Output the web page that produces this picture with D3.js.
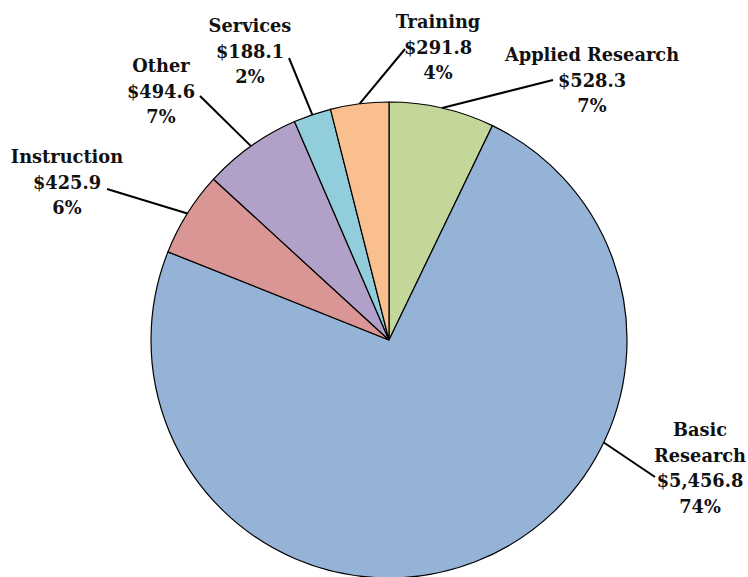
<!DOCTYPE html>
<html>
<head>
<meta charset="utf-8" />
<script src="https://d3js.org/d3.v7.min.js"></script>
<style>
    body { margin: 0; background: white; }
    .lbl { font-family: "DejaVu Serif", serif; font-weight: bold; font-size: 17.8px; fill: #111; }
</style>
</head>
<body>
<svg id="chart" width="748" height="577"></svg>
<script>
    // data
    let categories = ["Applied Research", "Basic Research", "Instruction", "Other", "Services", "Training"];
    let amounts = [528.3, 5456.8, 425.9, 494.6, 188.1, 291.8];
    let amountLabels = ["$528.3", "$5,456.8", "$425.9", "$494.6", "$188.1", "$291.8"];
    let pctLabels = ["7%", "74%", "6%", "7%", "2%", "4%"];
    let colors = ["#c4d79b", "#95b3d7", "#da9694", "#b1a0c7", "#92cddc", "#fabf8f"];

    // label layout: name lines, centre x, first line y, leader end, optional anchor angle
    let labelLayout = [
        { lines: ["Applied Research"], x: 592, y: 61, end: [553, 80] },
        { lines: ["Basic", "Research"], x: 700, y: 436, end: [655, 477], angle: 115.5 },
        { lines: ["Instruction"], x: 67, y: 163, end: [107, 189] },
        { lines: ["Other"], x: 161, y: 72, end: [200, 96] },
        { lines: ["Services"], x: 250, y: 32, end: [289, 58] },
        { lines: ["Training"], x: 438, y: 28, end: [405, 49] }
    ];

    let cx = 389, cy = 340, radius = 238;
    let svg = d3.select("#chart");
    let g = svg.append("g").attr("transform", "translate(" + cx + "," + cy + ")");

    let pie = d3.pie().sort(null).value(function (d) { return d; });
    let arc = d3.arc().innerRadius(0).outerRadius(radius);
    let arcs = pie(amounts);

    g.selectAll("path.slice")
        .data(arcs)
        .enter()
        .append("path")
        .attr("class", "slice")
        .attr("d", arc)
        .attr("fill", function (d, i) { return colors[i]; })
        .attr("stroke", "#000")
        .attr("stroke-width", 1.2);

    // leader lines
    arcs.forEach(function (d, i) {
        let lay = labelLayout[i];
        let a = lay.angle !== undefined ? lay.angle * Math.PI / 180 : (d.startAngle + d.endAngle) / 2;
        let x0 = cx + radius * Math.sin(a), y0 = cy - radius * Math.cos(a);
        svg.append("line")
            .attr("x1", x0).attr("y1", y0)
            .attr("x2", lay.end[0]).attr("y2", lay.end[1])
            .attr("stroke", "#000")
            .attr("stroke-width", 2);
    });

    // labels
    labelLayout.forEach(function (lay, i) {
        let lines = lay.lines.concat([amountLabels[i], pctLabels[i]]);
        let t = svg.append("text").attr("class", "lbl").attr("text-anchor", "middle");
        lines.forEach(function (s, j) {
            t.append("tspan").attr("x", lay.x).attr("y", lay.y + j * 25.5).text(s);
        });
    });
</script>
</body>
</html>
